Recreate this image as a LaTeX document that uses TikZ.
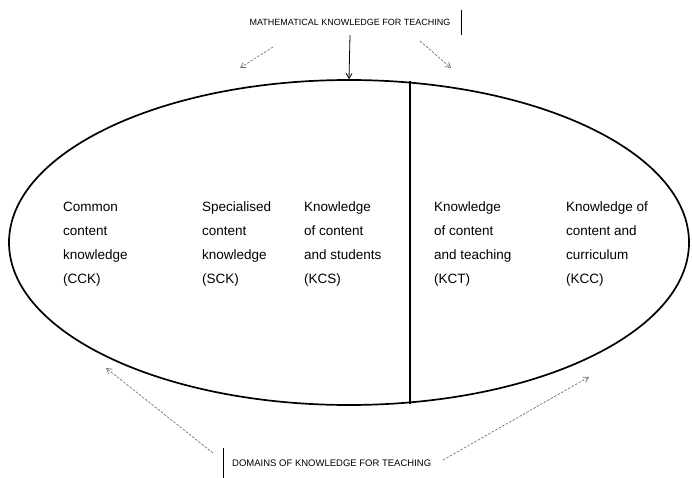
\documentclass[tikz,border=0pt]{standalone}
\usepackage{fontspec}
\setmainfont{Liberation Sans}
\usetikzlibrary{shapes.geometric, arrows.meta, positioning, calc}

\begin{document}
\begin{tikzpicture}[x=1pt, y=-1pt,
    egg/.style={ellipse, draw=black, line width=1.7pt, minimum width=680pt, minimum height=325pt, inner sep=0pt},
    col/.style={anchor=west, align=left, inner sep=0pt, font=\fontsize{13.5}{24}\selectfont},
    caption/.style={font=\fontsize{9.5}{11}\selectfont, minimum height=25pt, inner ysep=0pt},
    arrow/.style={-{Straight Barb[length=5pt, width=6pt]}, line width=0.8pt},
    dasharrow/.style={-{Straight Barb[length=5pt, width=6pt]}, line width=0.7pt, draw=black!55, dash pattern=on 2.5pt off 1.5pt}
]
    \useasboundingbox (0,0) rectangle (692,478);

    % --- Egg and divider ---
    \node[egg] (e) at (349,242.5) {};
    \coordinate (dtop) at (410,81);
    \coordinate (dbot) at (410,404);
    \draw[line width=1.2pt] (dtop) -- (dbot);

    % --- Knowledge domains ---
    \node[col] (cck) at (63,244) {Common\\content\\knowledge\\(CCK)};
    \node[col] (sck) at (202,244) {Specialised\\content\\knowledge\\(SCK)};
    \node[col] (kcs) at (304,244) {Knowledge\\of content\\and students\\(KCS)};
    \node[col] (kct) at (434,244) {Knowledge\\of content\\and teaching\\(KCT)};
    \node[col] (kcc) at (566,244) {Knowledge of\\content and\\curriculum\\(KCC)};

    % --- Top caption ---
    \node[caption, font=\fontsize{9}{11}\selectfont, inner xsep=11pt] (top) at (350,22.5) {MATHEMATICAL KNOWLEDGE FOR TEACHING};
    \draw[line width=1pt] (top.north east) -- (top.south east);
    \draw[arrow] (top.south) -- (e.north);
    \coordinate (tl0) at (273,47);
    \coordinate (tl1) at (240,68);
    \coordinate (tr0) at (420,41);
    \coordinate (tr1) at (451,68);
    \draw[dasharrow] (tl0) -- (tl1);
    \draw[dasharrow] (tr0) -- (tr1);

    % --- Bottom caption ---
    \node[caption, anchor=west, minimum height=30pt, inner xsep=9pt] (bot) at (223,463) {DOMAINS OF KNOWLEDGE FOR TEACHING};
    \draw[line width=1pt] (bot.north west) -- (bot.south west);
    \coordinate (bl0) at (213,453);
    \coordinate (bl1) at (106,368);
    \coordinate (br0) at (443,460);
    \coordinate (br1) at (589,377);
    \draw[dasharrow] (bl0) -- (bl1);
    \draw[dasharrow] (br0) -- (br1);
\end{tikzpicture}
\end{document}
